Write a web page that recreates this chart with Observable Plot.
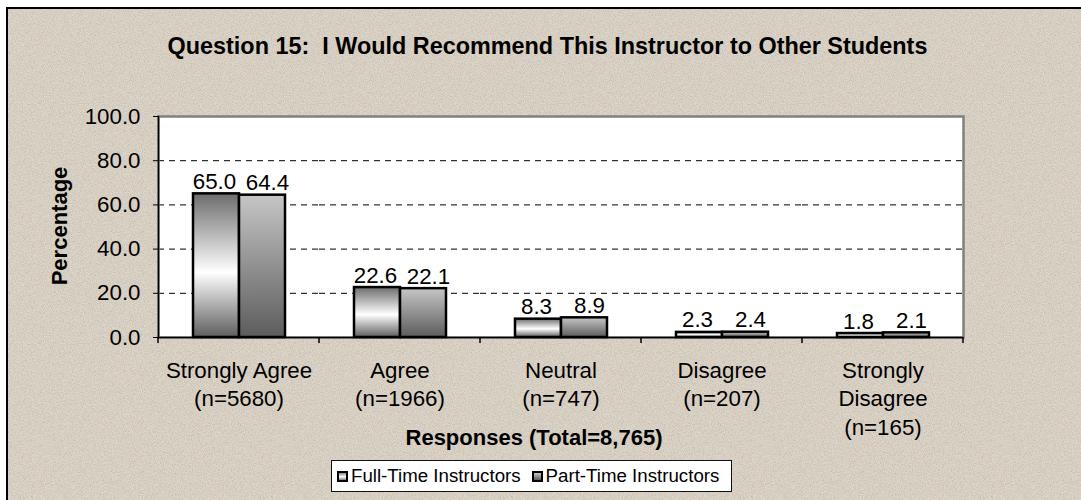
<!DOCTYPE html>
<html>
<head>
<meta charset="utf-8">
<script src="https://cdn.jsdelivr.net/npm/d3@7"></script>
<script src="https://cdn.jsdelivr.net/npm/@observablehq/plot@0.6"></script>
<style>
  html, body { margin: 0; padding: 0; background: #fff; }
  body { width: 1081px; height: 500px; position: relative; overflow: hidden; font-family: "Liberation Sans", Arial, sans-serif; }
  #panel {
    position: absolute; left: 6px; top: 7px; width: 1080px; height: 500px;
    border-left: 2px solid #000; border-top: 2px solid #000;
    background-color: #ddd5c9;
    background-image: url("data:image/svg+xml;utf8,<svg xmlns='http://www.w3.org/2000/svg' width='240' height='240'><filter id='n'><feTurbulence type='fractalNoise' baseFrequency='1.1' numOctaves='2' seed='3'/><feColorMatrix values='0 0 0 0 0.42 0 0 0 0 0.37 0 0 0 0 0.30 0 0 0 1.1 -0.42'/></filter><rect width='100%' height='100%' filter='url(%23n)'/></svg>");
  }
  #title { position: absolute; left: 7px; width: 1081px; top: 35px; text-align: center; font-weight: bold; font-size: 23.4px; line-height: 23px; color: #000; }
  #ylabel { position: absolute; left: 60px; top: 226px; transform: translate(-50%, -50%) rotate(-90deg); font-weight: bold; font-size: 22px; white-space: nowrap; }
  #xlabel { position: absolute; left: 534px; top: 426px; transform: translateX(-50%); font-weight: bold; font-size: 22px; line-height: 24px; white-space: nowrap; }
  #chart { position: absolute; left: 0; top: 80px; }
  #legend { position: absolute; left: 331px; top: 460px; width: 401px; height: 32px; box-sizing: border-box; border: 1.5px solid #111; background: #fff; display: flex; align-items: center; padding-left: 5px; font-size: 18.7px; white-space: nowrap; overflow: hidden; }
  .sw { display: inline-block; flex: 0 0 auto; width: 11px; height: 11px; box-sizing: border-box; border: 2px solid #000; margin-right: 3px; }
  .item { display: flex; flex: 0 0 auto; align-items: center; margin-right: 11px; white-space: nowrap; }
</style>
</head>
<body>
<svg width="0" height="0" style="position:absolute">
  <defs>
    <linearGradient id="gFT" x1="0" y1="0" x2="0" y2="1">
      <stop offset="0" stop-color="#6c6c6c"/>
      <stop offset="0.55" stop-color="#ffffff"/>
      <stop offset="1" stop-color="#5e5e5e"/>
    </linearGradient>
    <linearGradient id="gPT" x1="0" y1="0" x2="0" y2="1">
      <stop offset="0" stop-color="#c6c6c6"/>
      <stop offset="1" stop-color="#5c5c5c"/>
    </linearGradient>
  </defs>
</svg>
<div id="panel"></div>
<div id="title">Question 15:&nbsp; I Would Recommend This Instructor to Other Students</div>
<div id="ylabel">Percentage</div>
<div id="chart"></div>
<div id="xlabel">Responses (Total=8,765)</div>
<div id="legend"></div>
<script>
// ---- data ----
const categoryNames = ["Strongly Agree", "Agree", "Neutral", "Disagree", "Strongly\nDisagree"];
const categoryCounts = [5680, 1966, 747, 207, 165];
const seriesNames = ["Full-Time Instructors", "Part-Time Instructors"];
const fullTimeValues = [65.0, 22.6, 8.3, 2.3, 1.8];
const partTimeValues = [64.4, 22.1, 8.9, 2.4, 2.1];
const yTicks = [0, 20, 40, 60, 80, 100];
const gridTicks = [20, 40, 60, 80];

// ---- build table ----
const categories = categoryNames.map((c, i) => `${c}\n(n=${categoryCounts[i]})`);
const rows = [];
categories.forEach((c, i) => {
  rows.push({category: c, series: seriesNames[0], value: fullTimeValues[i]});
  rows.push({category: c, series: seriesNames[1], value: partTimeValues[i]});
});
const fills = ["url(#gFT)", "url(#gPT)"];
const fmt = d3.format(".1f");

const chart = Plot.plot({
  width: 1081,
  height: 370,
  marginTop: 36,
  marginBottom: 113,
  marginLeft: 157,
  marginRight: 117,
  style: {background: "transparent", fontFamily: "Liberation Sans, Arial, sans-serif", color: "#000"},
  fx: {domain: categories, padding: 0, label: null},
  x: {domain: seriesNames, paddingInner: 0, paddingOuter: 0.735, axis: null},
  y: {domain: [0, 100], label: null},
  color: {domain: seriesNames, range: fills},
  marks: [
    Plot.frame({facet: "super", fill: "white"}),
    Plot.ruleY(gridTicks, {stroke: "#000", strokeWidth: 1, strokeDasharray: "6,5"}),
    Plot.frame({facet: "super", stroke: "#808080", strokeWidth: 2.5}),
    Plot.frame({facet: "super", anchor: "left", stroke: "#000", strokeWidth: 1.5}),
    Plot.ruleY([0], {stroke: "#000", strokeWidth: 1.5}),
    Plot.barY(rows, {fx: "category", x: "series", y: "value", fill: "series", stroke: "#000", strokeWidth: 2.5}),
    Plot.text(rows.filter(d => d.series === seriesNames[0]), {fx: "category", x: "series", y: "value", text: d => fmt(d.value), lineAnchor: "bottom", dy: -5, dx: -2, fontSize: 22.3, fill: "#000"}),
    Plot.text(rows.filter(d => d.series === seriesNames[1]), {fx: "category", x: "series", y: "value", text: d => fmt(d.value), lineAnchor: "bottom", dy: -5, dx: 5, fontSize: 22.3, fill: "#000"}),
    Plot.axisY({ticks: yTicks, tickFormat: fmt, tickSize: 5, tickPadding: 13, fontSize: 22.3, label: null}),
    Plot.axisFx({anchor: "bottom", tickSize: 0, tickPadding: 20, fontSize: 22.3, lineHeight: 1.28, label: null})
  ]
});
document.getElementById("chart").appendChild(chart);

// boundary tick marks under the category axis, positioned from Plot's own scales
const fxScale = chart.scale("fx");
const yScale = chart.scale("y");
const y0 = yScale.apply(0);
const bounds = categories.map(c => fxScale.apply(c)).concat([fxScale.apply(categories[categories.length - 1]) + fxScale.bandwidth]);
d3.select(chart).append("g")
  .selectAll("line").data(bounds).join("line")
  .attr("x1", d => d).attr("x2", d => d)
  .attr("y1", y0).attr("y2", y0 + 6)
  .attr("stroke", "#000").attr("stroke-width", 1.5);

// legend
const legend = d3.select("#legend");
const swatchCss = ["linear-gradient(#8a8a8a, #ffffff 55%, #7a7a7a)", "linear-gradient(#c6c6c6, #5c5c5c)"];
seriesNames.forEach((s, i) => {
  const it = legend.append("div").attr("class", "item");
  it.append("span").attr("class", "sw").style("background", swatchCss[i]);
  it.append("span").text(s);
});
</script>
</body>
</html>
